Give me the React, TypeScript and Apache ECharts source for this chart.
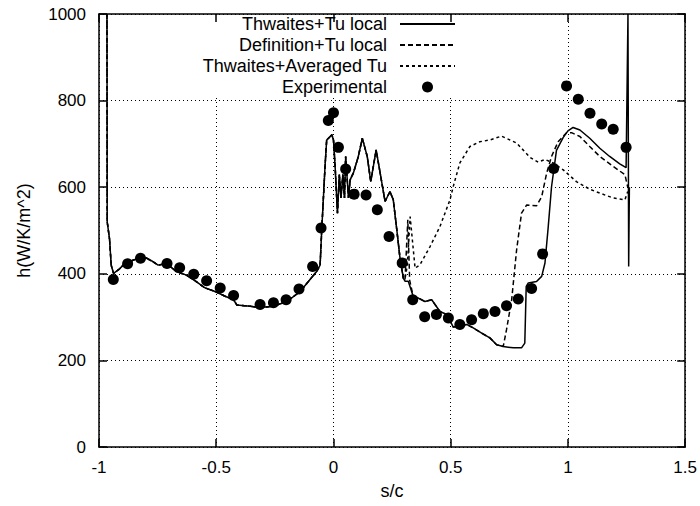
import React, { useEffect, useRef } from "react";
import * as echarts from "echarts";

const FONT = '"Liberation Sans", Arial, Helvetica, sans-serif';

const xTicks = { min: -1, max: 1.5, interval: 0.5 };
const yTicks = { min: 0, max: 1000, interval: 200 };

const seriesNames = [
  "Thwaites+Tu local",
  "Definition+Tu local",
  "Thwaites+Averaged Tu",
  "Experimental",
];

// region shared by all three computed curves (s/c, h)
const leadingRegion: [number, number][] = [
  [-0.966, 1000], [-0.965, 520], [-0.955, 480], [-0.948, 420], [-0.938, 401],
  [-0.915, 410], [-0.897, 420], [-0.86, 430], [-0.833, 436], [-0.8, 437],
  [-0.77, 428], [-0.748, 420], [-0.712, 424], [-0.67, 405], [-0.627, 397],
  [-0.585, 382], [-0.55, 368], [-0.505, 359], [-0.457, 347], [-0.426, 340],
  [-0.412, 328], [-0.355, 325], [-0.313, 322], [-0.256, 325], [-0.199, 336],
  [-0.142, 359], [-0.071, 406], [-0.057, 420], [-0.05, 502], [-0.036, 648],
  [-0.029, 709], [-0.014, 717], [-0.007, 721], [0, 709], [0.007, 648],
  [0.017, 540], [0.025, 629], [0.032, 575], [0.04, 629], [0.047, 575],
  [0.052, 671], [0.064, 575], [0.071, 617], [0.085, 633], [0.106, 671],
  [0.123, 713], [0.144, 671], [0.159, 613], [0.182, 686], [0.199, 633],
  [0.22, 567], [0.241, 590], [0.255, 571], [0.27, 502], [0.284, 435],
  [0.298, 390],
];

const thwaitesLocalTail: [number, number][] = [
  [0.305, 383], [0.319, 383], [0.34, 348], [0.362, 344], [0.39, 336],
  [0.419, 340], [0.454, 313], [0.483, 306], [0.511, 277], [0.539, 279],
  [0.568, 283], [0.596, 275], [0.632, 263], [0.667, 252], [0.696, 236],
  [0.724, 232], [0.767, 229], [0.802, 229], [0.816, 240], [0.822, 371],
  [0.831, 379], [0.866, 382], [0.888, 394], [0.902, 425], [0.916, 509],
  [0.93, 601], [0.951, 685], [0.98, 715], [1.0, 730], [1.022, 738],
  [1.051, 732], [1.093, 713], [1.136, 690], [1.178, 671], [1.221, 654],
  [1.248, 645], [1.256, 1000], [1.259, 417], [1.262, 600],
];

const definitionLocalTail: [number, number][] = [
  [0.305, 385], [0.317, 525], [0.325, 385], [0.34, 348], [0.362, 344],
  [0.39, 336], [0.419, 340], [0.454, 313], [0.483, 306], [0.511, 277],
  [0.539, 279], [0.568, 283], [0.596, 275], [0.632, 263], [0.667, 252],
  [0.696, 236], [0.724, 232], [0.738, 271], [0.76, 340], [0.781, 455],
  [0.802, 540], [0.824, 559], [0.866, 557], [0.888, 578], [0.909, 632],
  [0.93, 671], [0.958, 705], [0.994, 726], [1.015, 726], [1.051, 717],
  [1.093, 694], [1.136, 671], [1.193, 648], [1.243, 629], [1.255, 600],
];

const averagedTuTail: [number, number][] = [
  [0.305, 388], [0.315, 420], [0.327, 532], [0.348, 413], [0.369, 421],
  [0.412, 463], [0.433, 486], [0.454, 509], [0.497, 571], [0.511, 602],
  [0.539, 656], [0.582, 694], [0.624, 705], [0.667, 709], [0.717, 718],
  [0.781, 702], [0.838, 669], [0.873, 658], [0.902, 664], [0.937, 656],
  [0.98, 640], [1.036, 613], [1.094, 595], [1.143, 585], [1.193, 575],
  [1.243, 571], [1.255, 590],
];

const experimental: [number, number][] = [
  [-0.939, 387], [-0.878, 423], [-0.823, 436], [-0.71, 424], [-0.656, 414],
  [-0.596, 399], [-0.541, 384], [-0.483, 367], [-0.426, 350], [-0.313, 329],
  [-0.256, 333], [-0.202, 340], [-0.147, 365], [-0.089, 417], [-0.053, 506],
  [-0.022, 754], [0.0, 772], [0.021, 692], [0.052, 642], [0.088, 584],
  [0.139, 582], [0.187, 548], [0.237, 486], [0.293, 425], [0.338, 340],
  [0.389, 301], [0.439, 306], [0.49, 298], [0.539, 283], [0.589, 294],
  [0.639, 308], [0.689, 313], [0.738, 326], [0.788, 342], [0.845, 366],
  [0.892, 446], [0.939, 643], [0.994, 834], [1.044, 803], [1.094, 771],
  [1.144, 746], [1.193, 734], [1.248, 692],
];

export default function App() {
  const ref = useRef<HTMLDivElement>(null);
  useEffect(() => {
    if (!ref.current) return;
    const chart = echarts.init(ref.current, undefined, { renderer: "svg" });
    const axisLine = { show: true, onZero: false, lineStyle: { color: "#000", width: 1.5 } };
    const axisTick = { show: true, inside: true, length: 8, lineStyle: { color: "#000", width: 1.5 } };
    const splitLine = { show: true, lineStyle: { color: "#000", width: 1, type: [1, 3] } };
    const label = { color: "#000", fontSize: 17, fontFamily: FONT, formatter: (v: number) => String(v) };
    const lineSeries = (name: string, data: [number, number][], type: any, z: number) => ({
      name,
      type: "line",
      data,
      symbol: "none",
      showSymbol: false,
      clip: true,
      z,
      lineStyle: { color: "#000", width: 1.5, type },
      itemStyle: { color: "#000" },
    });
    chart.setOption({
      animation: false,
      backgroundColor: "#fff",
      grid: { left: 99, right: 13, top: 14, bottom: 59, containLabel: false },
      legend: {
        orient: "vertical",
        right: 242,
        top: 15,
        align: "right",
        itemWidth: 55,
        itemHeight: 11,
        itemGap: 3,
        padding: [0, 2, 0, 40],
        backgroundColor: "#fff",
        textStyle: { color: "#000", fontSize: 18, fontFamily: FONT, lineHeight: 18, padding: [0, 8, 0, 0] },
        data: [
          { name: seriesNames[0], itemStyle: { opacity: 0 } },
          { name: seriesNames[1], itemStyle: { opacity: 0 } },
          { name: seriesNames[2], itemStyle: { opacity: 0 } },
          { name: seriesNames[3] },
        ],
      },
      xAxis: [
        {
          type: "value", ...xTicks, position: "bottom",
          axisLine, axisTick, splitLine,
          axisLabel: { ...label, margin: 12 },
          name: "s/c", nameLocation: "middle", nameGap: 35,
          nameTextStyle: { color: "#000", fontSize: 18, fontFamily: FONT },
        },
        {
          type: "value", ...xTicks, position: "top", z: 5,
          axisLine, axisTick, splitLine: { show: false }, axisLabel: { show: false },
        },
      ],
      yAxis: [
        {
          type: "value", ...yTicks, position: "left",
          axisLine, axisTick, splitLine,
          axisLabel: { ...label, margin: 13 },
          name: "h(W/K/m^2)", nameLocation: "middle", nameGap: 66,
          nameTextStyle: { color: "#000", fontSize: 18, fontFamily: FONT },
        },
        {
          type: "value", ...yTicks, position: "right", z: 5,
          axisLine, axisTick, splitLine: { show: false }, axisLabel: { show: false },
        },
      ],
      series: [
        lineSeries(seriesNames[0], leadingRegion.concat(thwaitesLocalTail), "solid", 4),
        lineSeries(seriesNames[1], leadingRegion.concat(definitionLocalTail), [5, 3], 3),
        lineSeries(seriesNames[2], leadingRegion.concat(averagedTuTail), [3, 3], 3),
        {
          name: seriesNames[3],
          type: "scatter",
          data: experimental,
          symbol: "circle",
          symbolSize: 11,
          itemStyle: { color: "#000", opacity: 1 },
          z: 6,
        },
      ],
    });
    return () => chart.dispose();
  }, []);
  return <div ref={ref} style={{ width: 700, height: 506, position: "absolute", left: 0, top: 0 }} />;
}
